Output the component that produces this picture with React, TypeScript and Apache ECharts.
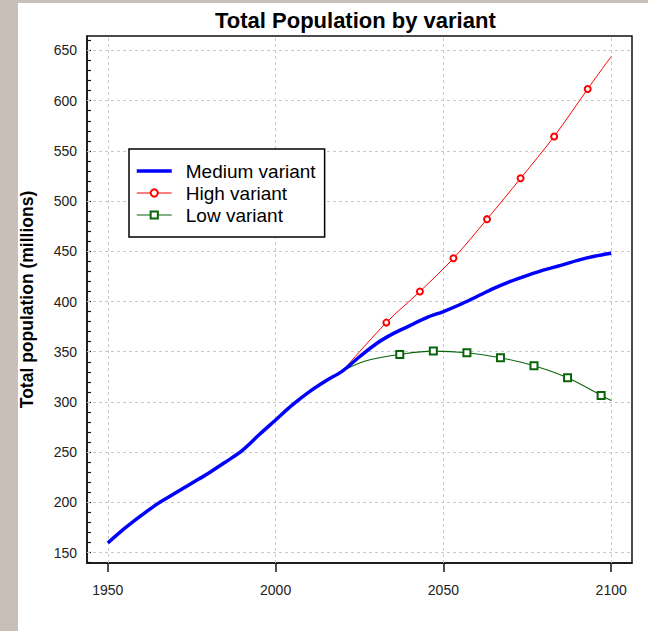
import React, { useEffect, useRef } from "react";
import * as echarts from "echarts";

const titleText = "Total Population by variant";
const yAxisTitle = "Total population (millions)";
const seriesNames = ["Medium variant", "High variant", "Low variant"];

const xTickYears = [1950, 2000, 2050, 2100];
const yTickValues = [150, 200, 250, 300, 350, 400, 450, 500, 550, 600, 650];
const yMinorTicks = [140, 150, 160, 170, 180, 190, 200, 210, 220, 230, 240, 250, 260, 270, 280, 290, 300, 310, 320, 330, 340, 350, 360, 370, 380, 390, 400, 410, 420, 430, 440, 450, 460, 470, 480, 490, 500, 510, 520, 530, 540, 550, 560, 570, 580, 590, 600, 610, 620, 630, 640, 650, 660];

const mediumYears = [1950, 1955, 1960, 1965, 1970, 1975, 1980, 1985, 1990, 1995, 2000, 2005, 2010, 2015, 2020, 2025, 2030, 2035, 2040, 2045, 2050, 2055, 2060, 2065, 2070, 2075, 2080, 2085, 2090, 2095, 2100];
const mediumValues = [159.5, 174, 187, 199, 209, 219, 229, 240, 251.5, 267, 282, 297, 310, 321, 331, 345, 358, 368, 376, 384, 390, 397, 405, 413, 420, 426, 431.5, 436, 441, 445, 448];

const highYears = [2020, 2033, 2043, 2053, 2063, 2073, 2083, 2093, 2100];
const highValues = [331, 379, 410, 443, 482, 522.7, 564.4, 611.7, 644];
const highMarkerYears = [2033, 2043, 2053, 2063, 2073, 2083, 2093];

const lowYears = [2020, 2027, 2037, 2047, 2057, 2067, 2077, 2087, 2097, 2100];
const lowValues = [331, 341, 347.3, 350.6, 349, 344, 336, 324, 306.5, 301.5];
const lowMarkerYears = [2037, 2047, 2057, 2067, 2077, 2087, 2097];

const FONT = '"Liberation Sans", Arial, sans-serif';

function withMarkers(years: number[], values: number[], markers: number[]) {
  return years.map((y, i) =>
    markers.includes(y) ? { value: [y, values[i]] } : { value: [y, values[i]], symbol: "none" }
  );
}

export default function App() {
  const ref = useRef<HTMLDivElement>(null);
  useEffect(() => {
    if (!ref.current) return;
    const chart = echarts.init(ref.current, null, { renderer: "svg" });
    const gridLines: any[] = [
      ...xTickYears.map((x) => ({ xAxis: x })),
      ...yTickValues.map((y) => ({ yAxis: y })),
    ];
    chart.setOption({
      animation: false,
      backgroundColor: "transparent",
      title: {
        text: titleText,
        left: 215,
        top: 9,
        padding: 0,
        textStyle: { fontFamily: FONT, fontSize: 22, fontWeight: "bold", color: "#000" },
      },
      legend: {
        data: [
          { name: seriesNames[0], itemStyle: { opacity: 0 }, lineStyle: { width: 3.5 } },
          { name: seriesNames[1], lineStyle: { width: 1 }, itemStyle: { borderWidth: 1 } },
          { name: seriesNames[2], lineStyle: { width: 1 }, itemStyle: { borderWidth: 1 } },
        ],
        orient: "vertical",
        left: 129,
        top: 149,
        padding: [12, 9, 12, 6],
        itemGap: 2,
        itemWidth: 35,
        itemHeight: 9,
        borderColor: "#000",
        borderWidth: 1.5,
        backgroundColor: "#fff",
        textStyle: { fontFamily: FONT, fontSize: 19, color: "#000", lineHeight: 20, padding: [0, 0, 0, 9] },
      },
      grid: {
        left: 87,
        right: 16,
        top: 36,
        bottom: 68,
        show: true,
        backgroundColor: "#fff",
        borderColor: "#111",
        borderWidth: 1.5,
      },
      xAxis: {
        type: "value",
        min: 1943.8,
        max: 2106.2,
        splitLine: { show: false },
        axisLine: { show: true, onZero: false, lineStyle: { color: "#111", width: 1.5 } },
        axisTick: { show: true, inside: false, length: 9, customValues: xTickYears, lineStyle: { color: "#111", width: 1.5 } },
        axisLabel: {
          customValues: xTickYears,
          margin: 20,
          fontFamily: FONT,
          fontSize: 14,
          color: "#222",
          formatter: (v: number) => String(v),
        },
      },
      yAxis: {
        type: "value",
        min: 139.6,
        max: 664.4,
        name: yAxisTitle,
        nameLocation: "middle",
        nameRotate: 90,
        nameGap: 51,
        nameTextStyle: { fontFamily: FONT, fontSize: 17.5, fontWeight: "bold", color: "#000" },
        splitLine: { show: false },
        axisLine: { show: true, onZero: false, lineStyle: { color: "#111", width: 1.5 } },
        axisTick: { show: true, inside: true, length: 4, customValues: yMinorTicks, lineStyle: { color: "#111", width: 1.2 } },
        axisLabel: {
          customValues: yTickValues,
          margin: 10,
          fontFamily: FONT,
          fontSize: 14,
          color: "#222",
          formatter: (v: number) => String(v),
        },
      },
      series: [
        {
          name: seriesNames[0],
          type: "line",
          data: mediumYears.map((y, i) => [y, mediumValues[i]]),
          smooth: 0.35,
          showSymbol: false,
          symbol: "none",
          z: 4,
          lineStyle: { color: "#0000ff", width: 3.5 },
          itemStyle: { color: "#0000ff" },
          markLine: {
            silent: true,
            z: 1,
            symbol: ["none", "none"],
            label: { show: false },
            lineStyle: { color: "#c8c8c8", type: [3, 3], width: 1 },
            data: gridLines,
          },
        },
        {
          name: seriesNames[1],
          type: "line",
          data: withMarkers(highYears, highValues, highMarkerYears),
          smooth: 0.35,
          symbol: "emptyCircle",
          symbolSize: 6,
          showSymbol: true,
          z: 3,
          lineStyle: { color: "#ff0000", width: 1 },
          itemStyle: { color: "#ff0000", borderWidth: 1 },
        },
        {
          name: seriesNames[2],
          type: "line",
          data: withMarkers(lowYears, lowValues, lowMarkerYears),
          smooth: 0.35,
          symbol: "emptyRect",
          symbolSize: 7,
          showSymbol: true,
          z: 3,
          lineStyle: { color: "#0a640a", width: 1.1 },
          itemStyle: { color: "#0a640a", borderWidth: 1.1 },
        },
      ],
    });
    return () => chart.dispose();
  }, []);
  return (
    <div style={{ position: "fixed", left: 0, top: 0, width: 648, height: 631, background: "#c8c0b8" }}>
      <div style={{ position: "absolute", left: 18, top: 3, right: 0, bottom: 0, background: "#fff" }} />
      <div ref={ref} style={{ position: "absolute", left: 0, top: 0, width: 648, height: 631 }} />
    </div>
  );
}
